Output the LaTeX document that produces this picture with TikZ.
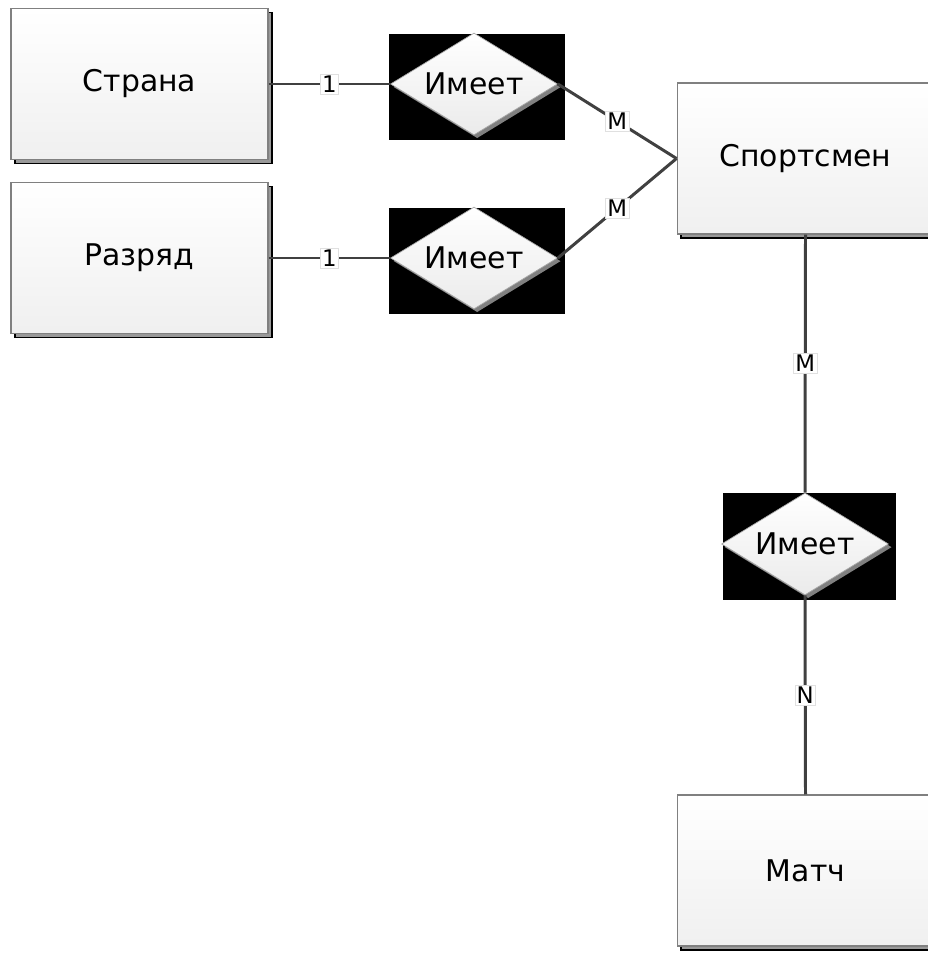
\documentclass[tikz,border=0pt]{standalone}
\usepackage{fontspec}
\setmainfont{DejaVu Sans}
\usetikzlibrary{shapes.geometric}
\usetikzlibrary{shadows}

\tikzset{
	entity/.style={rectangle, draw=black!50, line width=0.6pt, top color=white, bottom color=black!6,
		minimum width=5.14cm, minimum height=3.02cm, font=\fontsize{17}{20}\selectfont,
		copy shadow={shadow xshift=2.3pt, shadow yshift=-2.3pt, fill=black!40, draw=black, line width=0.9pt}},
	relation/.style={diamond, aspect=1.64, inner sep=0pt, draw=black!35, line width=0.4pt,
		top color=white, bottom color=black!8, minimum width=3.34cm, minimum height=2.04cm,
		font=\fontsize{17}{20}\selectfont,
		copy shadow={shadow xshift=1.8pt, shadow yshift=-1.8pt, fill=black!50, draw=none}},
	link/.style={draw=black!75, line width=1.7pt},
	card/.style={fill=white, draw=black!12, line width=0.3pt, inner sep=1pt, font=\fontsize{13}{15}\selectfont}
}

\begin{document}
\begin{tikzpicture}[x=0.02cm, y=-0.02cm]

	%layers, black boxes go behind the diamonds
	\pgfdeclarelayer{background}
	\pgfsetlayers{background,main}

	\useasboundingbox (0,0) rectangle (927,953);

	%entities
	\node[entity] (country) at (139.5,84) {Страна};
	\node[entity] (rank) at (139.5,258) {Разряд};
	\node[entity] (athlete) at (805.5,158.5) {Спортсмен};
	\node[entity] (match) at (805.5,870.5) {Матч};

	%relations
	\node[relation] (hasA) at (474,84) {Имеет};
	\node[relation] (hasB) at (474,258) {Имеет};
	\node[relation] (hasC) at (805,544) {Имеет};

	%black boxes round the relations
	\begin{pgfonlayer}{background}
		\fill[black] ([shift={(-1,1)}]hasA.west |- hasA.north) rectangle ([shift={(7,5)}]hasA.east |- hasA.south);
		\fill[black] ([shift={(-1,1)}]hasB.west |- hasB.north) rectangle ([shift={(7,5)}]hasB.east |- hasB.south);
		\fill[black] ([shift={(2,0)}]hasC.west |- hasC.north) rectangle ([shift={(7,5)}]hasC.east |- hasC.south);
	\end{pgfonlayer}

	%links with cardinalities
	\draw[link] (country.east) -- node[card] {1} (hasA.west);
	\draw[link] (rank.east) -- node[card] {1} (hasB.west);
	\draw[link] (hasA.east) -- node[card] {M} (athlete.west);
	\draw[link] (hasB.east) -- node[card] {M} (athlete.west);
	\draw[link] (athlete.south) -- node[card] {M} (hasC.north);
	\draw[link] (hasC.south) -- node[card] {N} (match.north);

\end{tikzpicture}
\end{document}
